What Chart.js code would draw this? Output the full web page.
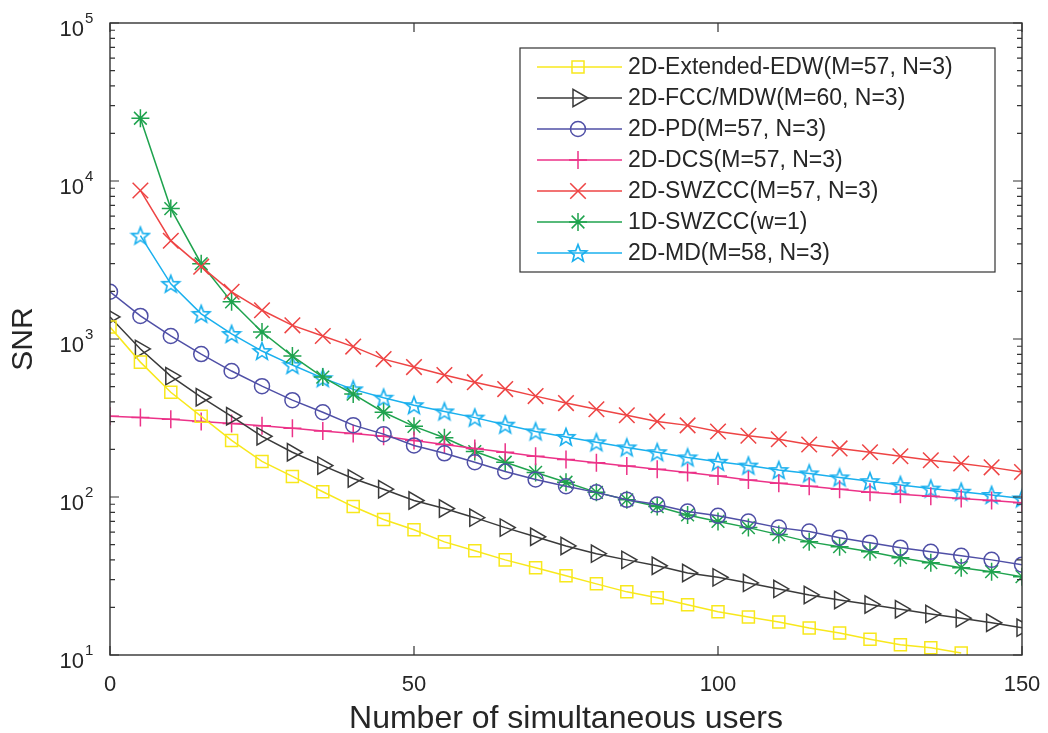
<!DOCTYPE html>
<html>
<head>
<meta charset="utf-8">
<script src="https://cdn.jsdelivr.net/npm/chart.js@4.4.1/dist/chart.umd.min.js"></script>
<style>
  html, body { margin: 0; padding: 0; background: #fff; }
  #wrap { width: 1048px; height: 733px; }
</style>
</head>
<body>
<div id="wrap"><canvas id="snrChart" width="1048" height="733"></canvas></div>
<script>
// x values (number of simultaneous users)
const users = [0, 5, 10, 15, 20, 25, 30, 35, 40, 45, 50, 55, 60, 65, 70, 75, 80, 85, 90, 95, 100,
  105, 110, 115, 120, 125, 130, 135, 140, 145, 150];

// SNR, one value per user count (null = no point)
const edw = [1190, 714, 460, 324, 228, 168, 135, 108, 87, 72, 62, 52, 45.7, 40, 35.7, 31.7, 28.2, 25.1, 23, 20.8, 18.8,
  17.4, 16.2, 14.8, 13.8, 12.6, 11.6, 11.1, 10.3, null, null];
const fccMdw = [1380, 865, 582, 428, 324, 242, 192, 158, 131, 112, 95, 84.5, 74, 64, 56, 49, 43.8, 40, 36.7, 33, 31,
  28.6, 26.2, 24, 22.3, 20.9, 19.5, 18.2, 17.1, 16, 14.9];
const pd = [1990, 1400, 1045, 803, 627, 503, 410, 344, 285, 250, 212, 189, 166, 145, 129, 117, 107, 96, 89.6, 81, 76,
  70, 64, 60.4, 55.3, 51.4, 47.8, 45, 42.5, 40, 37.3];
const dcs = [324, 318, 310, 300, 292, 282, 272, 262, 252, 242, 228, 215, 203, 192, 181, 173, 165, 157, 150, 143, 136,
  128, 122, 117, 112, 107, 104, 101, 98, 95, 92];
const swzcc2d = [null, 8710, 4190, 2870, 1990, 1520, 1220, 1045, 895, 746, 664, 591, 533, 482, 435, 393, 359, 329, 301, 284, 260,
  244, 232, 215, 203, 192, 181, 171, 163, 154, 144];
const swzcc1d = [null, 24950, 6690, 2995, 1718, 1107, 780, 574, 448, 344, 280, 237, 194, 166, 143, 124, 107, 96, 87, 77, 70,
  64, 57.8, 52, 48.5, 45, 41.3, 38.4, 35.7, 33.7, 31.3];
const md = [null, 4510, 2234, 1442, 1076, 839, 684, 565, 480, 425, 381, 348, 318, 287, 260, 240, 222, 206, 192, 178, 167,
  158, 148, 141, 133, 126, 119, 113, 108, 103, 98];

// tick labels
const yDecades = [10, 100, 1000, 10000, 100000];
const yExponents = ['1', '2', '3', '4', '5'];
const xMajor = [0, 50, 100, 150];

const FONT = '"Liberation Sans", Arial, sans-serif';

// 5-pointed star marker (not built into Chart.js)
function makeStar(color) {
  const c = document.createElement('canvas');
  c.width = 22; c.height = 22;
  const g = c.getContext('2d');
  g.strokeStyle = color;
  g.lineWidth = 1.6;
  g.beginPath();
  for (let i = 0; i < 10; i++) {
    const r = i % 2 === 0 ? 9.2 : 3.9;
    const a = -Math.PI / 2 + i * Math.PI / 5;
    const px = 11 + r * Math.cos(a), py = 11.8 + r * Math.sin(a);
    if (i === 0) g.moveTo(px, py); else g.lineTo(px, py);
  }
  g.closePath();
  g.stroke();
  return c;
}

function series(label, values, color, style, radius, rotation) {
  return {
    label: label,
    data: values.map((v, i) => ({ x: users[i], y: v })),
    borderColor: color,
    backgroundColor: color,
    borderWidth: 1.5,
    pointStyle: style,
    pointRadius: radius,
    pointHoverRadius: radius,
    pointRotation: rotation || 0,
    pointBorderColor: color,
    pointBackgroundColor: 'rgba(0,0,0,0)',
    pointBorderWidth: 1.5,
    tension: 0,
    spanGaps: false
  };
}

const datasets = [
  series('2D-Extended-EDW(M=57, N=3)', edw, '#f8e81c', 'rect', 8.5),
  series('2D-FCC/MDW(M=60, N=3)', fccMdw, '#3a3a3a', 'triangle', 10, 90),
  series('2D-PD(M=57, N=3)', pd, '#4f4fa6', 'circle', 7.5),
  series('2D-DCS(M=57, N=3)', dcs, '#ec3288', 'cross', 9),
  series('2D-SWZCC(M=57, N=3)', swzcc2d, '#ee4444', 'crossRot', 11),
  series('1D-SWZCC(w=1)', swzcc1d, '#1fa34e', 'star', 9),
  series('2D-MD(M=58, N=3)', md, '#1ab0ee', makeStar('#1ab0ee'), 11)
];

// axes box, inward tick marks, 10^n labels and boxed legend, MATLAB style
const matlabFrame = {
  id: 'matlabFrame',
  afterDraw(chart) {
    const ctx = chart.ctx;
    const a = chart.chartArea;
    const xs = chart.scales.x, ys = chart.scales.y;
    ctx.save();
    ctx.strokeStyle = '#333333';
    ctx.lineWidth = 1.4;
    ctx.strokeRect(a.left, a.top, a.right - a.left, a.bottom - a.top);

    ctx.lineWidth = 1.2;
    ctx.beginPath();
    xMajor.forEach(v => {
      const px = xs.getPixelForValue(v);
      ctx.moveTo(px, a.bottom); ctx.lineTo(px, a.bottom - 9);
      ctx.moveTo(px, a.top); ctx.lineTo(px, a.top + 9);
    });
    yDecades.forEach((d, i) => {
      const py = ys.getPixelForValue(d);
      ctx.moveTo(a.left, py); ctx.lineTo(a.left + 9, py);
      ctx.moveTo(a.right, py); ctx.lineTo(a.right - 9, py);
      if (i < yDecades.length - 1) {
        for (let k = 2; k <= 9; k++) {
          const pm = ys.getPixelForValue(d * k);
          ctx.moveTo(a.left, pm); ctx.lineTo(a.left + 5, pm);
          ctx.moveTo(a.right, pm); ctx.lineTo(a.right - 5, pm);
        }
      }
    });
    ctx.stroke();

    // y tick labels with raised exponent
    ctx.fillStyle = '#262626';
    ctx.textBaseline = 'middle';
    yDecades.forEach((d, i) => {
      const py = ys.getPixelForValue(d);
      ctx.font = '22px ' + FONT;
      ctx.textAlign = 'right';
      ctx.fillText('10', a.left - 26, py + 7);
      ctx.font = '15px ' + FONT;
      ctx.textAlign = 'left';
      ctx.fillText(yExponents[i], a.left - 25, py - 4);
    });

    // legend
    const boxR = a.right - 27, boxT = a.top + 25;
    const boxL = boxR - 475, boxB = boxT + 224;
    ctx.fillStyle = '#ffffff';
    ctx.fillRect(boxL, boxT, boxR - boxL, boxB - boxT);
    ctx.strokeStyle = '#333333';
    ctx.lineWidth = 1.2;
    ctx.strokeRect(boxL, boxT, boxR - boxL, boxB - boxT);
    ctx.font = '23px ' + FONT;
    ctx.textBaseline = 'middle';
    ctx.textAlign = 'left';
    chart.data.datasets.forEach((ds, i) => {
      const y = boxT + 19 + i * 31;
      ctx.strokeStyle = ds.borderColor;
      ctx.lineWidth = 1.5;
      ctx.beginPath();
      ctx.moveTo(boxL + 17, y); ctx.lineTo(boxL + 102, y);
      ctx.stroke();
      ctx.fillStyle = 'rgba(0,0,0,0)';
      Chart.helpers.drawPoint(ctx, {
        pointStyle: ds.pointStyle,
        rotation: ds.pointRotation,
        radius: ds.pointRadius,
        borderWidth: 1.5
      }, boxL + 58, y);
      ctx.fillStyle = '#262626';
      ctx.fillText(ds.label, boxL + 108, y + 1);
    });
    ctx.restore();
  }
};

const ctx = document.getElementById('snrChart').getContext('2d');
new Chart(ctx, {
  type: 'line',
  data: { datasets: datasets },
  plugins: [matlabFrame],
  options: {
    responsive: false,
    animation: false,
    layout: { padding: { top: 23, right: 26, left: 0, bottom: 0 } },
    plugins: {
      legend: { display: false },
      tooltip: { enabled: false }
    },
    scales: {
      x: {
        type: 'linear',
        min: 0,
        max: 150,
        afterFit: s => { s.height = 78; s.paddingLeft = 0; s.paddingRight = 0; },
        grid: { display: false, drawTicks: false },
        border: { display: false },
        ticks: {
          stepSize: 50,
          padding: 17,
          color: '#262626',
          font: { family: FONT, size: 22 }
        },
        title: {
          display: true,
          text: 'Number of simultaneous users',
          color: '#262626',
          padding: { top: 0, bottom: -5 },
          font: { family: FONT, size: 32 }
        }
      },
      y: {
        type: 'logarithmic',
        min: 10,
        max: 100000,
        afterFit: s => { s.width = 110; s.paddingTop = 0; s.paddingBottom = 0; },
        grid: { display: false, drawTicks: false },
        border: { display: false },
        ticks: {
          autoSkip: false,
          callback: () => ''
        },
        title: {
          display: true,
          text: 'SNR',
          color: '#262626',
          padding: { top: 6, bottom: 0 },
          font: { family: FONT, size: 30 }
        }
      }
    }
  }
});
</script>
</body>
</html>
